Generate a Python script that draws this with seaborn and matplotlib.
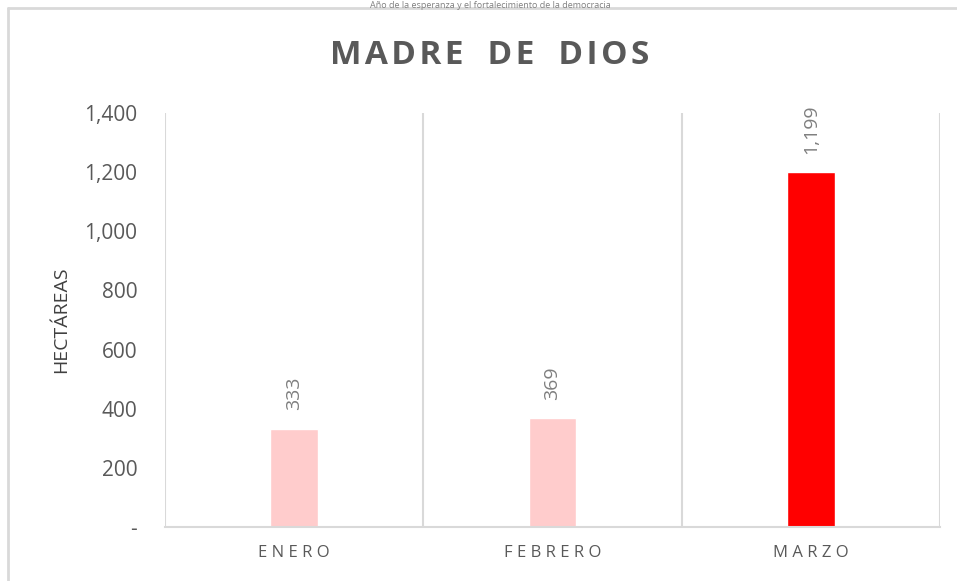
import pandas as pd
import matplotlib.pyplot as plt
import seaborn as sns
from matplotlib.lines import Line2D
from matplotlib.ticker import FuncFormatter

sns.set_theme(style="white")
plt.rcParams['font.family'] = ['Open Sans', 'DejaVu Sans']

meses = ["ENERO", "FEBRERO", "MARZO"]
hectareas = [333, 369, 1199]
colores = ["#FFCCCC", "#FFCCCC", "#FF0000"]
y_ticks = [0, 200, 400, 600, 800, 1000, 1200, 1400]

df = pd.DataFrame({"Mes": meses, "Hectareas": hectareas})

fig = plt.figure(figsize=(9.57, 5.81), dpi=100)
ax = fig.add_axes([165 / 957, 1 - 527 / 581, 775 / 957, 414 / 581])

sns.barplot(data=df, x="Mes", y="Hectareas", hue="Mes", palette=colores,
            width=0.185, legend=False, ax=ax, saturation=1)

ax.set_ylim(0, 1400)
ax.set_xlim(-0.5, len(meses) - 0.5)
ax.set_yticks(y_ticks)
ax.yaxis.set_major_formatter(FuncFormatter(lambda v, p: "-" if v == 0 else f"{int(v):,}"))
ax.tick_params(axis='y', labelsize=15, colors="#595959", length=0, pad=20)
ax.tick_params(axis='x', length=0, pad=13)
ax.set_xticks(range(len(meses)))
ax.set_xticklabels([" ".join(m) for m in meses], fontsize=12, color="#595959")

# vertical separators between categories
for xv in [i - 0.5 for i in range(len(meses) + 1)]:
    ax.axvline(xv, color="#D9D9D9", lw=1.5, zorder=0)

for s in ["top", "right", "left"]:
    ax.spines[s].set_visible(False)
ax.spines["bottom"].set_color("#D9D9D9")
ax.spines["bottom"].set_linewidth(1.5)

ax.set_xlabel("")
ax.set_ylabel("HECTÁREAS", fontsize=14, color="#404040", labelpad=10)

for i, v in enumerate(hectareas):
    ax.annotate(f"{v:,}", (i, v), xytext=(0, 13), textcoords="offset points",
                rotation=90, ha="center", va="bottom", fontsize=14, color="#7F7F7F")

titulo = "\u200a  \u200a".join("\u200a".join(w) for w in "MADRE DE DIOS".split())
fig.text(490 / 957, 1 - 56 / 581, titulo, ha="center", va="center",
         fontsize=24, fontweight="bold", color="#595959")

# chart border (top and left) and header text at the top
fig.add_artist(Line2D([8 / 957, 1], [1 - 8 / 581, 1 - 8 / 581], transform=fig.transFigure,
                      color="#D9D9D9", lw=2))
fig.add_artist(Line2D([8 / 957, 8 / 957], [0, 1 - 8 / 581], transform=fig.transFigure,
                      color="#D9D9D9", lw=2))
fig.text(490 / 957, 1 - 0.5 / 581, "Año de la esperanza y el fortalecimiento de la democracia",
         ha="center", va="top", fontsize=6.5, color="#808080")

fig.savefig("out.png", dpi=100)
